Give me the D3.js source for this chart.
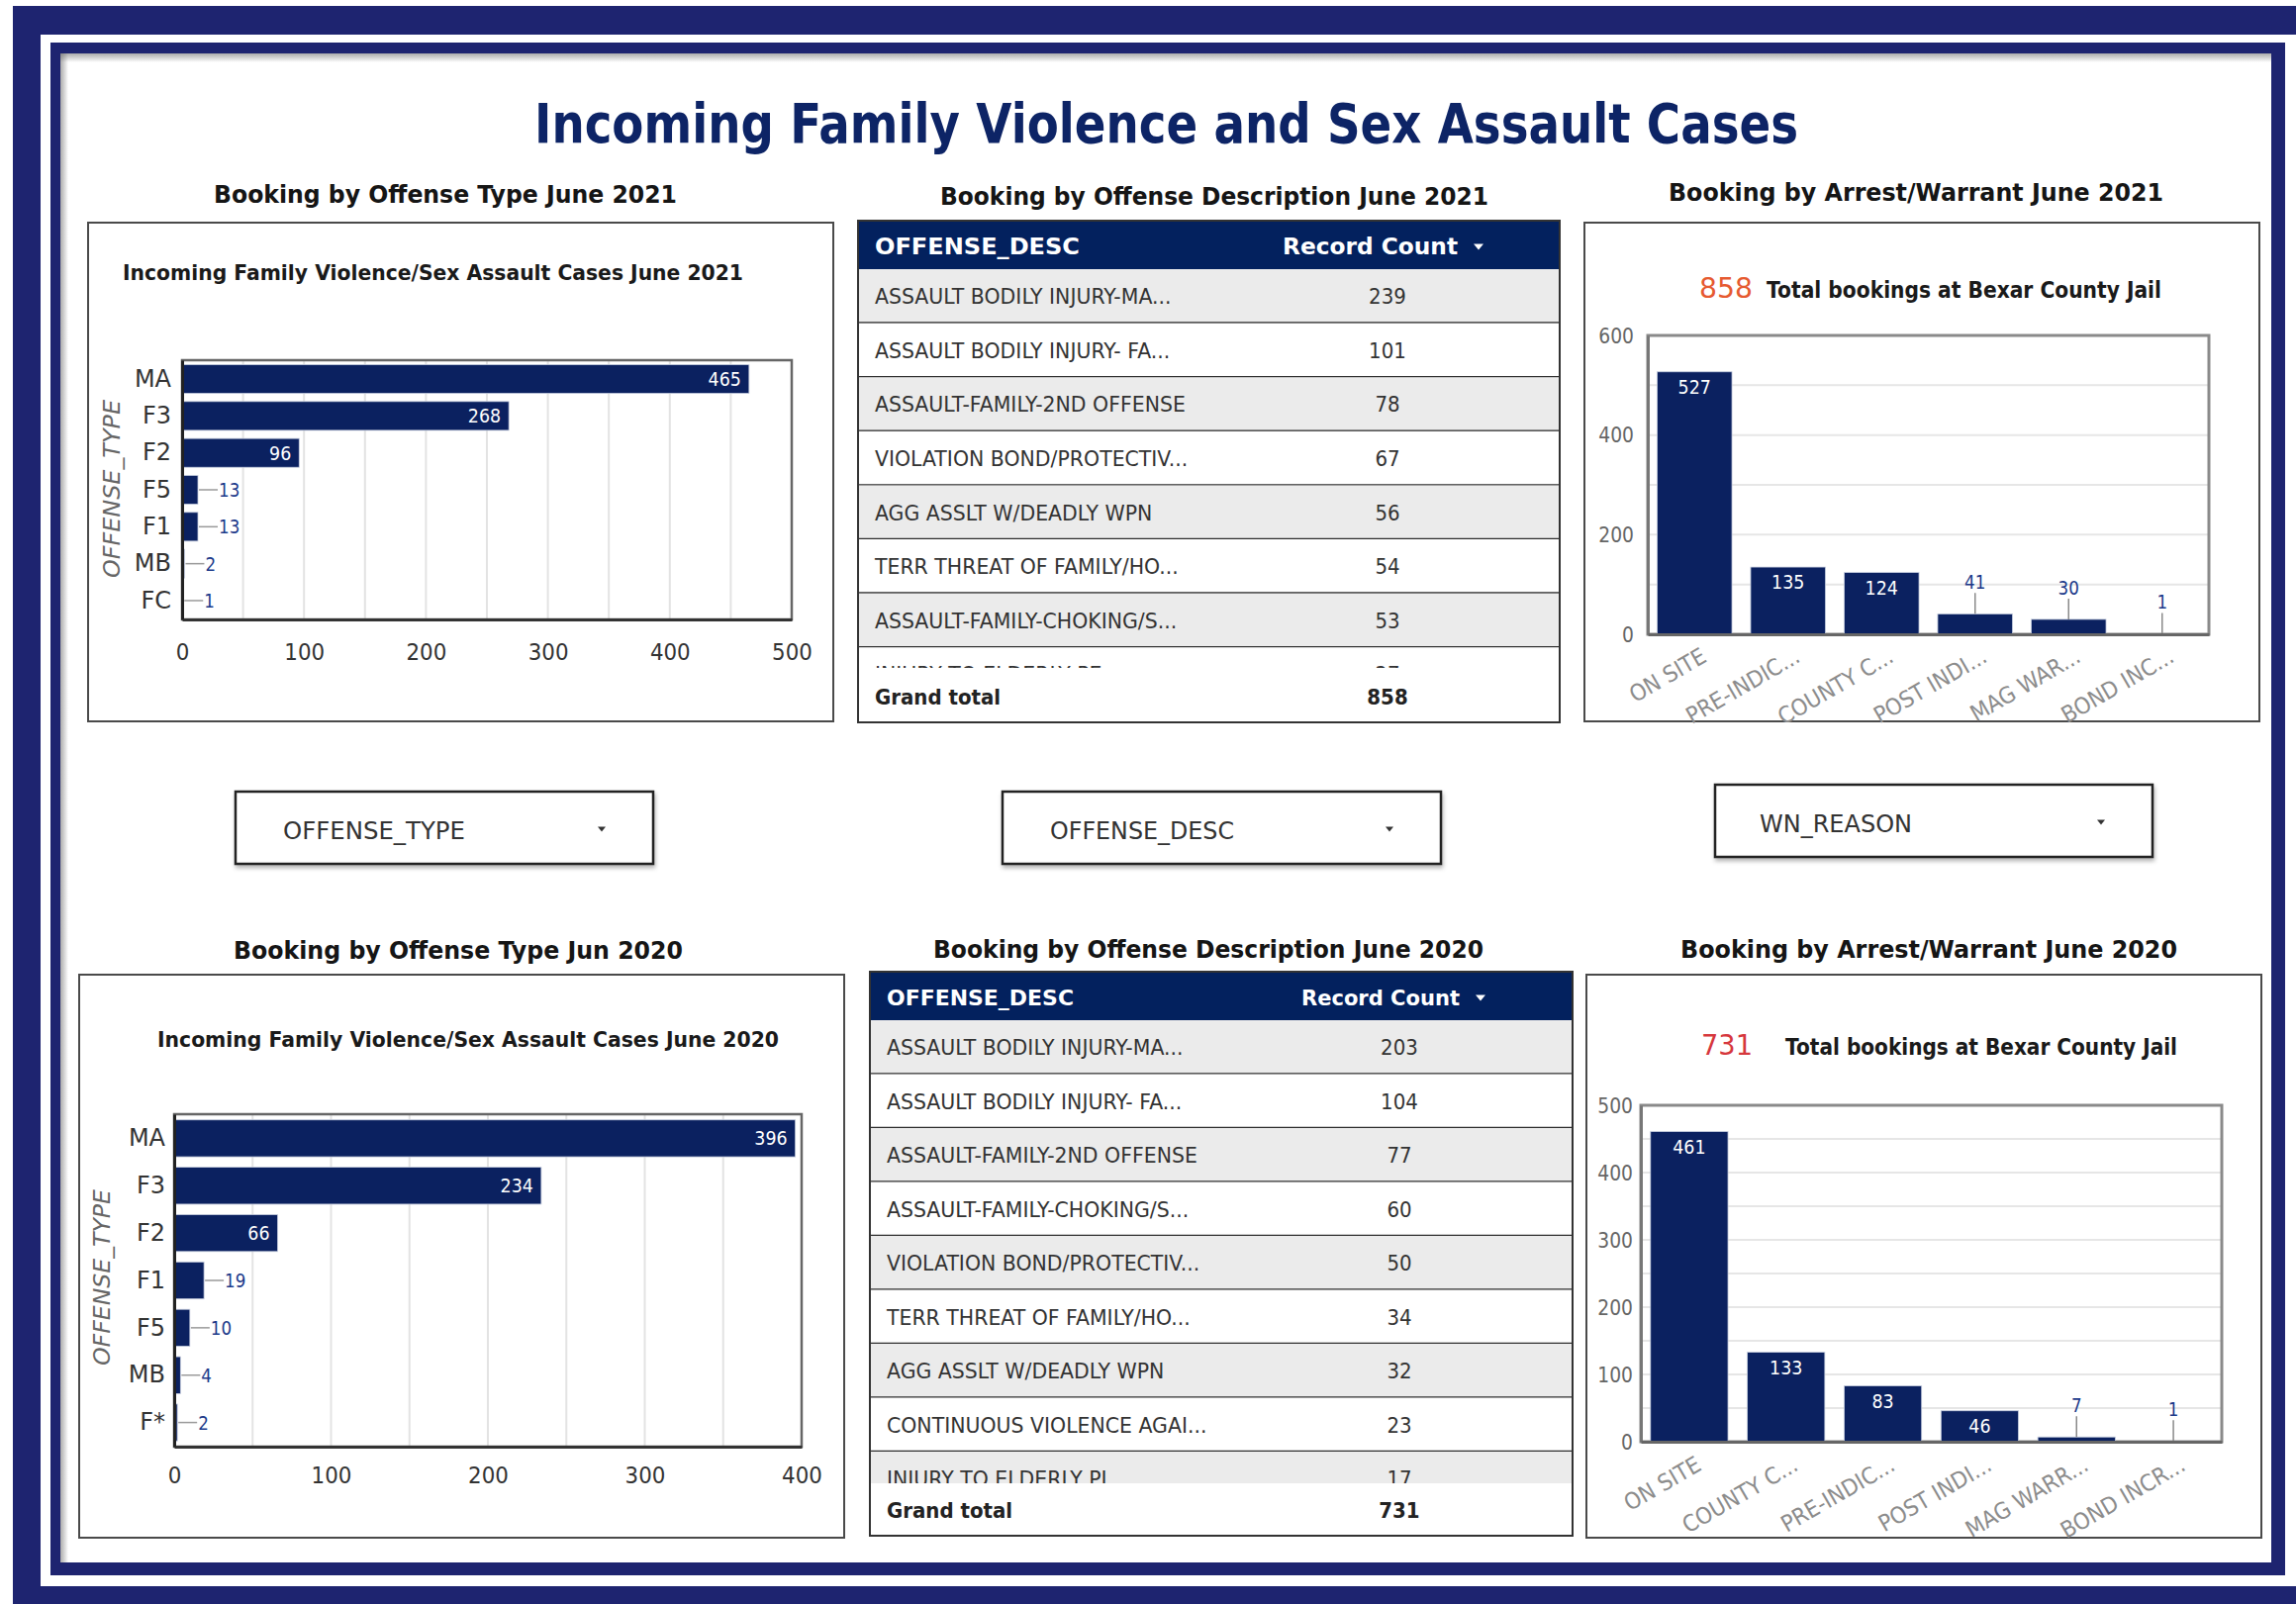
<!DOCTYPE html>
<html>
<head>
<meta charset="utf-8">
<title>Incoming Family Violence and Sex Assault Cases</title>
<script src="https://cdn.jsdelivr.net/npm/d3@7"></script>
<style>
  body { margin: 0; background: #fff; }
  svg { display: block; }
  text { font-family: "DejaVu Sans", Verdana, sans-serif; }
</style>
</head>
<body>
<svg id="dashboard"></svg>
<script>
// ---- values ----
const typeCats2021 = ["MA", "F3", "F2", "F5", "F1", "MB", "FC"];
const typeVals2021 = [465, 268, 96, 13, 13, 2, 1];
const typeTicks2021 = [0, 100, 200, 300, 400, 500];

const typeCats2020 = ["MA", "F3", "F2", "F1", "F5", "MB", "F*"];
const typeVals2020 = [396, 234, 66, 19, 10, 4, 2];
const typeTicks2020 = [0, 100, 200, 300, 400];

const descNames2021 = ["ASSAULT BODILY INJURY-MA...", "ASSAULT BODILY INJURY- FA...", "ASSAULT-FAMILY-2ND OFFENSE",
  "VIOLATION BOND/PROTECTIV...", "AGG ASSLT W/DEADLY WPN", "TERR THREAT OF FAMILY/HO...",
  "ASSAULT-FAMILY-CHOKING/S...", "INJURY TO ELDERLY PE..."];
const descVals2021 = [239, 101, 78, 67, 56, 54, 53, 27];

const descNames2020 = ["ASSAULT BODILY INJURY-MA...", "ASSAULT BODILY INJURY- FA...", "ASSAULT-FAMILY-2ND OFFENSE",
  "ASSAULT-FAMILY-CHOKING/S...", "VIOLATION BOND/PROTECTIV...", "TERR THREAT OF FAMILY/HO...",
  "AGG ASSLT W/DEADLY WPN", "CONTINUOUS VIOLENCE AGAI...", "INJURY TO ELDERLY PI"];
const descVals2020 = [203, 104, 77, 60, 50, 34, 32, 23, 17];

const grandTotals = [858, 731];

const reasonCats2021 = ["ON SITE", "PRE-INDIC...", "COUNTY C...", "POST INDI...", "MAG WAR...", "BOND INC..."];
const reasonVals2021 = [527, 135, 124, 41, 30, 1];
const reasonTicks2021 = [0, 200, 400, 600];

const reasonCats2020 = ["ON SITE", "COUNTY C...", "PRE-INDIC...", "POST INDI...", "MAG WARR...", "BOND INCR..."];
const reasonVals2020 = [461, 133, 83, 46, 7, 1];
const reasonTicks2020 = [0, 100, 200, 300, 400, 500];

const filterLabels = ["OFFENSE_TYPE", "OFFENSE_DESC", "WN_REASON"];

// ---- page ----
const W = 2320, H = 1621;
const BAR = "#0b2160", HEAD = "#03215e", FRAME = "#1e2470";
const FONT = '"DejaVu Sans", Verdana, sans-serif';

const svg = d3.select("#dashboard").attr("width", W).attr("height", H);
const defs = svg.append("defs");

const shadow = defs.append("filter").attr("id", "shadow")
  .attr("x", "-5%").attr("y", "-10%").attr("width", "110%").attr("height", "140%");
shadow.append("feDropShadow").attr("dx", 1).attr("dy", 3).attr("stdDeviation", 2)
  .attr("flood-color", "#000").attr("flood-opacity", 0.3);

const shadeTop = defs.append("linearGradient").attr("id", "shadeTop")
  .attr("x1", 0).attr("y1", 0).attr("x2", 0).attr("y2", 1);
shadeTop.append("stop").attr("offset", "0%").attr("stop-color", "#666").attr("stop-opacity", 0.55);
shadeTop.append("stop").attr("offset", "100%").attr("stop-color", "#666").attr("stop-opacity", 0);
const shadeLeft = defs.append("linearGradient").attr("id", "shadeLeft")
  .attr("x1", 0).attr("y1", 0).attr("x2", 1).attr("y2", 0);
shadeLeft.append("stop").attr("offset", "0%").attr("stop-color", "#666").attr("stop-opacity", 0.55);
shadeLeft.append("stop").attr("offset", "100%").attr("stop-color", "#666").attr("stop-opacity", 0);

// frame: outer navy band, white gap, inner navy border, white panel
svg.append("rect").attr("x", 13).attr("y", 6).attr("width", W).attr("height", H).attr("fill", FRAME);
svg.append("rect").attr("x", 41).attr("y", 35).attr("width", W).attr("height", 1603 - 35).attr("fill", "#fff");
svg.append("rect").attr("x", 51).attr("y", 43).attr("width", 2309 - 51).attr("height", 1592 - 43).attr("fill", FRAME);
svg.append("rect").attr("x", 61).attr("y", 54).attr("width", 2295 - 61).attr("height", 1579 - 54).attr("fill", "#fff");
svg.append("rect").attr("x", 61).attr("y", 54).attr("width", 2295 - 61).attr("height", 9).attr("fill", "url(#shadeTop)");
svg.append("rect").attr("x", 61).attr("y", 54).attr("width", 8).attr("height", 1579 - 54).attr("fill", "url(#shadeLeft)");

// condense text horizontally around its own x
function squeeze(sel, s) {
  sel.each(function() {
    const x = +(this.getAttribute("x") || 0);
    const prev = this.getAttribute("transform") || "";
    this.setAttribute("transform", `${prev} translate(${x},0) scale(${s},1) translate(${-x},0)`);
  });
}

function addText(g, x, y, str, o) {
  const t = g.append("text").attr("x", x).attr("y", y).text(str)
    .attr("font-size", o.size)
    .attr("font-weight", o.weight || "normal")
    .attr("fill", o.fill || "#222")
    .attr("text-anchor", o.anchor || "start");
  if (o.style) t.attr("font-style", o.style);
  if (o.len) t.attr("textLength", o.len).attr("lengthAdjust", "spacingAndGlyphs");
  if (o.sx) squeeze(t, o.sx);
  return t;
}

function styleAxis(a, size, fill) {
  a.attr("font-family", FONT).attr("font-size", size);
  a.selectAll("text").attr("fill", fill);
}

function box(g, b, filter) {
  const r = g.append("rect").attr("x", b[0]).attr("y", b[1])
    .attr("width", b[2] - b[0]).attr("height", b[3] - b[1])
    .attr("fill", "#fff").attr("stroke", "#4a4a4a").attr("stroke-width", 2);
  if (filter) r.attr("filter", "url(#shadow)");
  return r;
}

// main title
addText(svg, 540, 144, "Incoming Family Violence and Sex Assault Cases",
  { size: 56, weight: "bold", fill: "#0d2466", len: 1277 });

// section titles
const sectionTitles = [
  { t: "Booking by Offense Type June 2021", x: 216, y: 205, w: 468 },
  { t: "Booking by Offense Description June 2021", x: 950, y: 207, w: 554 },
  { t: "Booking by Arrest/Warrant June 2021", x: 1686, y: 203, w: 500 },
  { t: "Booking by Offense Type Jun 2020", x: 236, y: 969, w: 454 },
  { t: "Booking by Offense Description June 2020", x: 943, y: 968, w: 556 },
  { t: "Booking by Arrest/Warrant June 2020", x: 1698, y: 968, w: 502 }
];
sectionTitles.forEach(s => addText(svg, s.x, s.y, s.t, { size: 24, weight: "bold", fill: "#151515", len: s.w }));

// ---- horizontal bar chart: offense type ----
function drawTypeChart(cats, vals, ticks, L) {
  const g = svg.append("g");
  box(g, L.box, false);
  addText(g, L.sub[0], L.sub[1], L.subtitle, { size: 22, weight: "bold", fill: "#1a1a1a", len: L.sub[2] });

  const [x0, y0, x1, y1] = L.plot;
  const max = d3.max(ticks);
  const x = d3.scaleLinear().domain([0, max]).range([x0, x1]);
  const y = d3.scaleBand().domain(cats).range([y0, y1]).paddingInner(0.22).paddingOuter(0.12);

  g.append("g").selectAll("line").data(d3.range(50, max, 50)).join("line")
    .attr("x1", d => x(d)).attr("x2", d => x(d)).attr("y1", y0).attr("y2", y1)
    .attr("stroke", "#e3e3e3").attr("stroke-width", 2);
  g.append("rect").attr("x", x0).attr("y", y0).attr("width", x1 - x0).attr("height", y1 - y0)
    .attr("fill", "none").attr("stroke", "#666").attr("stroke-width", 2.5);

  const rows = cats.map((c, i) => ({ c, v: vals[i] }));
  g.append("g").selectAll("rect").data(rows).join("rect")
    .attr("x", x(0)).attr("y", d => y(d.c))
    .attr("width", d => x(d.v) - x(0)).attr("height", y.bandwidth())
    .attr("fill", BAR).attr("stroke", "#c9d0e0").attr("stroke-width", 0.8);

  rows.forEach(d => {
    const cy = y(d.c) + y.bandwidth() / 2;
    const ex = x(d.v);
    if (ex - x0 > 50) {
      addText(g, ex - 8, cy + 7, d.v, { size: 19, fill: "#fff", anchor: "end", sx: 0.92 });
    } else {
      g.append("line").attr("x1", ex + 1).attr("x2", ex + 20).attr("y1", cy).attr("y2", cy)
        .attr("stroke", "#9a9a9a").attr("stroke-width", 1.5);
      addText(g, ex + 21, cy + 7, d.v, { size: 19, fill: "#1c3a8a", sx: 0.88 });
    }
  });

  const xa = g.append("g").attr("transform", `translate(0,${y1})`)
    .call(d3.axisBottom(x).tickValues(ticks).tickSize(0).tickSizeOuter(0).tickPadding(L.tickPad));
  styleAxis(xa, 23, "#333");
  xa.select(".domain").attr("stroke", "#333").attr("stroke-width", 3);
  squeeze(xa.selectAll("text"), 0.93);

  const ya = g.append("g").attr("transform", `translate(${x0},0)`)
    .call(d3.axisLeft(y).tickSize(0).tickSizeOuter(0).tickPadding(L.catPad));
  styleAxis(ya, 24, "#333");
  ya.select(".domain").attr("stroke", "#222").attr("stroke-width", 3);

  g.append("text")
    .attr("transform", `translate(${L.axisTitle[0]},${L.axisTitle[1]}) rotate(-90)`)
    .attr("text-anchor", "middle").attr("font-size", 23).attr("font-style", "italic")
    .attr("fill", "#666").attr("textLength", L.axisTitle[2]).attr("lengthAdjust", "spacingAndGlyphs")
    .text("OFFENSE_TYPE");
}

// ---- vertical bar chart: arrest / warrant reason ----
function drawReasonChart(cats, vals, ticks, gridStep, total, L) {
  const g = svg.append("g");
  box(g, L.box, false);
  addText(g, L.total[0], L.total[2], total, { size: 29, fill: L.totalColor, len: L.total[1] });
  addText(g, L.caption[0], L.total[2], "Total bookings at Bexar County Jail",
    { size: 23, weight: "bold", fill: "#1a1a1a", len: L.caption[1] });

  const [x0, y0, x1, y1] = L.plot;
  const max = d3.max(ticks);
  const x = d3.scaleBand().domain(cats).range([x0, x1]).paddingInner(0.2).paddingOuter(0.1);
  const y = d3.scaleLinear().domain([0, max]).range([y1, y0]);

  g.append("g").selectAll("line").data(d3.range(gridStep, max, gridStep)).join("line")
    .attr("x1", x0).attr("x2", x1).attr("y1", d => y(d)).attr("y2", d => y(d))
    .attr("stroke", "#e6e6e6").attr("stroke-width", 2);
  g.append("rect").attr("x", x0).attr("y", y0).attr("width", x1 - x0).attr("height", y1 - y0)
    .attr("fill", "none").attr("stroke", "#8a8a8a").attr("stroke-width", 3);

  const rows = cats.map((c, i) => ({ c, v: vals[i] }));
  g.append("g").selectAll("rect").data(rows).join("rect")
    .attr("x", d => x(d.c)).attr("y", d => y(d.v))
    .attr("width", x.bandwidth()).attr("height", d => y(0) - y(d.v))
    .attr("fill", BAR).attr("stroke", "#c9d0e0").attr("stroke-width", 0.8);

  rows.forEach(d => {
    const cx = x(d.c) + x.bandwidth() / 2;
    const top = y(d.v);
    if (y(0) - top > 25) {
      addText(g, cx, top + 22, d.v, { size: 19, fill: "#fff", anchor: "middle", sx: 0.92 });
    } else {
      g.append("line").attr("x1", cx).attr("x2", cx).attr("y1", top).attr("y2", top - 21)
        .attr("stroke", "#8a8a8a").attr("stroke-width", 1.5);
      addText(g, cx, top - 25, d.v, { size: 19, fill: "#1c3a8a", anchor: "middle", sx: 0.88 });
    }
  });

  const ya = g.append("g").attr("transform", `translate(${x0},0)`)
    .call(d3.axisLeft(y).tickValues(ticks).tickSize(0).tickSizeOuter(0).tickPadding(L.tickPad));
  styleAxis(ya, 22, "#666");
  ya.select(".domain").attr("stroke", "#777").attr("stroke-width", 3);
  squeeze(ya.selectAll("text"), 0.85);

  const xa = g.append("g").attr("transform", `translate(0,${y1})`)
    .call(d3.axisBottom(x).tickSize(0).tickSizeOuter(0));
  styleAxis(xa, 23, "#8c8c8c");
  xa.select(".domain").attr("stroke", "#666").attr("stroke-width", 3);
  xa.selectAll("text")
    .attr("x", 0).attr("y", 0).attr("dy", "0.75em")
    .attr("text-anchor", "end")
    .attr("transform", `translate(5,${L.labelPad}) rotate(-30)`);
  squeeze(xa.selectAll("text"), 0.92);
}

// ---- offense description table ----
function drawDescTable(names, vals, total, L) {
  const g = svg.append("g");
  const { id, x0, x1, top, headH, rowH, grandTop, bottom, countX } = L;
  const rowsTop = top + headH;
  const r = d3.scaleBand().domain(d3.range(names.length)).range([rowsTop, rowsTop + rowH * names.length]);

  defs.append("clipPath").attr("id", "clip" + id)
    .append("rect").attr("x", x0).attr("y", rowsTop).attr("width", x1 - x0).attr("height", grandTop - rowsTop);

  g.append("rect").attr("x", x0).attr("y", top).attr("width", x1 - x0).attr("height", bottom - top).attr("fill", "#fff");

  const body = g.append("g").attr("clip-path", `url(#clip${id})`);
  const row = body.selectAll("g").data(names.map((n, i) => ({ n, v: vals[i], i }))).join("g")
    .attr("transform", d => `translate(0,${r(d.i)})`);
  row.append("rect").attr("x", x0).attr("width", x1 - x0).attr("height", rowH)
    .attr("fill", d => d.i % 2 === 0 ? "#ebebeb" : "#fff");
  row.append("line").attr("x1", x0).attr("x2", x1).attr("y1", rowH).attr("y2", rowH)
    .attr("stroke", "#2e2e2e").attr("stroke-width", 2.5);
  row.each(function(d) {
    const rg = d3.select(this);
    addText(rg, x0 + 17, rowH / 2 + 8, d.n, { size: 22, fill: "#333", sx: 0.93 });
    addText(rg, countX, rowH / 2 + 8, d.v, { size: 22, fill: "#333", anchor: "middle", sx: 0.9 });
  });

  // header
  g.append("rect").attr("x", x0).attr("y", top).attr("width", x1 - x0).attr("height", headH).attr("fill", HEAD);
  const hy = top + headH / 2 + 9;
  addText(g, x0 + 17, hy, "OFFENSE_DESC", { size: L.headSize, weight: "bold", fill: "#fff", len: L.headW[0] });
  addText(g, L.countHeadX, hy, "Record Count", { size: L.headSize, weight: "bold", fill: "#fff", len: L.headW[1] });
  const cx = L.countHeadX + L.headW[1] + 21, cy = top + headH / 2 + 2;
  g.append("path").attr("d", `M${cx - 5},${cy - 3}L${cx + 5},${cy - 3}L${cx},${cy + 3}Z`).attr("fill", "#fff");

  // grand total
  g.append("rect").attr("x", x0).attr("y", grandTop).attr("width", x1 - x0).attr("height", bottom - grandTop).attr("fill", "#fff");
  addText(g, x0 + 17, L.grandBase, "Grand total", { size: 22, weight: "bold", fill: "#222", sx: 0.9 });
  addText(g, countX, L.grandBase, total, { size: 22, weight: "bold", fill: "#222", anchor: "middle", sx: 0.9 });

  g.append("rect").attr("x", x0).attr("y", top).attr("width", x1 - x0).attr("height", bottom - top)
    .attr("fill", "none").attr("stroke", "#333").attr("stroke-width", 2);
}

// ---- filter dropdowns ----
function drawDropdown(label, L) {
  const g = svg.append("g");
  box(g, L.box, true).attr("stroke", "#222").attr("stroke-width", 2.5);
  const cy = (L.box[1] + L.box[3]) / 2;
  addText(g, L.textX, cy + 11, label, { size: 25, fill: "#333", len: L.textW });
  g.append("path").attr("d", `M${L.caretX - 4},${cy - 1}L${L.caretX + 4},${cy - 1}L${L.caretX},${cy + 4}Z`).attr("fill", "#333");
}

// ---- layout ----
drawTypeChart(typeCats2021, typeVals2021, typeTicks2021, {
  box: [89, 225, 842, 729],
  subtitle: "Incoming Family Violence/Sex Assault Cases June 2021", sub: [124, 283, 627],
  plot: [184, 364, 800, 626], tickPad: 25, catPad: 11, axisTitle: [121, 494, 180]
});
drawTypeChart(typeCats2020, typeVals2020, typeTicks2020, {
  box: [80, 985, 853, 1554],
  subtitle: "Incoming Family Violence/Sex Assault Cases June 2020", sub: [159, 1058, 628],
  plot: [176, 1126, 810, 1462], tickPad: 21, catPad: 9, axisTitle: [111, 1291, 178]
});

drawDescTable(descNames2021, descVals2021, grandTotals[0], {
  id: "t21", x0: 867, x1: 1576, top: 223, headH: 49, rowH: 54.6, grandTop: 675, grandBase: 712, bottom: 730,
  countX: 1402, countHeadX: 1296, headSize: 23, headW: [207, 177]
});
drawDescTable(descNames2020, descVals2020, grandTotals[1], {
  id: "t20", x0: 879, x1: 1589, top: 982, headH: 49, rowH: 54.5, grandTop: 1499, grandBase: 1534, bottom: 1552,
  countX: 1414, countHeadX: 1315, headSize: 22, headW: [189, 160]
});

drawReasonChart(reasonCats2021, reasonVals2021, reasonTicks2021, 100, grandTotals[0], {
  box: [1601, 225, 2283, 729],
  total: [1717, 54, 301], totalColor: "#e65a30", caption: [1785, 399],
  plot: [1665, 339, 2232, 641], tickPad: 14, labelPad: 12
});
drawReasonChart(reasonCats2020, reasonVals2020, reasonTicks2020, 50, grandTotals[1], {
  box: [1603, 985, 2285, 1554],
  total: [1719, 52, 1066], totalColor: "#d6373d", caption: [1804, 396],
  plot: [1658, 1117, 2245, 1457], tickPad: 8, labelPad: 13
});

drawDropdown(filterLabels[0], { box: [238, 800, 660, 873], textX: 286, textW: 184, caretX: 608 });
drawDropdown(filterLabels[1], { box: [1013, 800, 1456, 873], textX: 1061, textW: 186, caretX: 1404 });
drawDropdown(filterLabels[2], { box: [1733, 793, 2175, 866], textX: 1778, textW: 154, caretX: 2123 });
</script>
</body>
</html>
